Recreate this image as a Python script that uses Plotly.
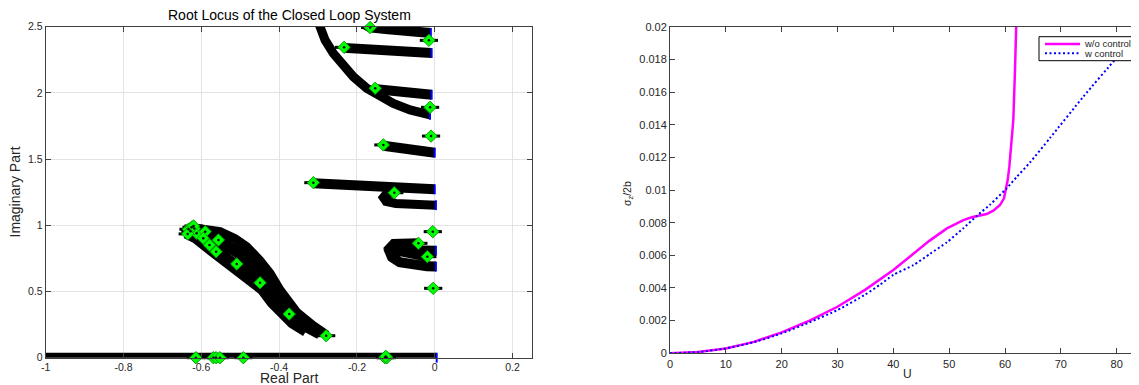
import plotly.graph_objects as go

# page body has an 8px margin: figure is sized/positioned so the chart lands where the reference has it
OFF = 8
W, H = 1139 - OFF, 385 - OFF

# ---------------- Root locus data ----------------
b1_x = [-0.178, -0.166, -0.12, -0.08, -0.04, -0.01]
b1_y = [2.515, 2.494, 2.481, 2.470, 2.460, 2.452]
b3_x = [-0.233, -0.18, -0.12, -0.06, -0.008]
b3_y = [2.340, 2.328, 2.317, 2.308, 2.301]
b4_x = [-0.30, -0.2949, -0.2820, -0.2607, -0.2350, -0.2092, -0.1748, -0.1406, -0.1064, -0.0635, -0.0121]
b4_y = [2.54, 2.500, 2.400, 2.299, 2.198, 2.122, 2.035, 1.971, 1.921, 1.871, 1.834]
b5_x = [-0.149, -0.10, -0.05, -0.008]
b5_y = [2.027, 2.012, 1.998, 1.986]
b7_x = [-0.132, -0.09, -0.04, 0.0]
b7_y = [1.601, 1.580, 1.561, 1.548]
b9_x = [-0.312, -0.25, -0.15, -0.05, 0.0]
b9_y = [1.317, 1.306, 1.293, 1.279, 1.272]
b10_x = [-0.104, -0.125, -0.132, -0.125, -0.10, -0.05, 0.003]
b10_y = [1.246, 1.235, 1.21, 1.18, 1.165, 1.155, 1.152]
hu_x = [-0.042, -0.08, -0.105, -0.112, -0.10, -0.06, -0.02, 0.003]
hu_y = [0.864, 0.872, 0.860, 0.838, 0.820, 0.812, 0.810, 0.808]
hl_x = [-0.019, -0.06, -0.10, -0.115, -0.11, -0.09, -0.06, -0.02, 0.003]
hl_y = [0.763, 0.790, 0.810, 0.795, 0.760, 0.722, 0.700, 0.690, 0.688]
# the long S-shaped bundle on the left: upper strand, and the two halves of the thick lower strand
sa_x = [-0.632, -0.6033, -0.552, -0.5134, -0.4833, -0.4491, -0.4234, -0.3977, -0.3805, -0.3548, -0.3121, -0.2776]
sa_y = [0.985, 0.977, 0.952, 0.899, 0.838, 0.733, 0.637, 0.511, 0.436, 0.343, 0.242, 0.171]
sb1_x = [-0.6033, -0.552, -0.5134, -0.4833, -0.4491, -0.4234, -0.3977, -0.3805, -0.3463, -0.2949]
sb1_y = [0.919, 0.876, 0.811, 0.748, 0.634, 0.534, 0.408, 0.332, 0.264, 0.184]
sb2_x = [-0.6375, -0.6118, -0.5691, -0.5262, -0.4833, -0.4406, -0.4149, -0.3892, -0.3635, -0.329]
sb2_y = [0.952, 0.914, 0.813, 0.725, 0.625, 0.524, 0.423, 0.335, 0.272, 0.209]
re_x = [-1.0, 0.005]
re_y = [0.0, 0.0]

branches = [(b1_x, b1_y, 10), (b3_x, b3_y, 10), (b4_x, b4_y, 9), (b5_x, b5_y, 10), (b7_x, b7_y, 10),
            (b9_x, b9_y, 10), (b10_x, b10_y, 9), (hu_x, hu_y, 10), (hl_x, hl_y, 10),
            (sa_x, sa_y, 9), (sb1_x, sb1_y, 12), (sb2_x, sb2_y, 14), (re_x, re_y, 10)]
end_branches = [(b1_x, b1_y), (b3_x, b3_y), (b4_x, b4_y), (b5_x, b5_y), (b7_x, b7_y),
                (b9_x, b9_y), (b10_x, b10_y), (hu_x, hu_y), (hl_x, hl_y), (re_x, re_y)]

dia_x = [-0.166, -0.015, -0.233, -0.153, -0.012, -0.0095, -0.132, -0.312, -0.104,
         -0.005, -0.042, -0.019, -0.004,
         -0.633, -0.612, -0.590, -0.595, -0.579, -0.562, -0.556, -0.509, -0.449, -0.374, -0.279,
         -0.625, -0.628, -0.618, -0.635, -0.620,
         -0.614, -0.569, -0.562, -0.552, -0.492, -0.128, -0.123, -0.126]
dia_y = [2.494, 2.397, 2.344, 2.035, 1.891, 1.674, 1.607, 1.322, 1.246,
         0.952, 0.864, 0.763, 0.524,
         0.970, 0.940, 0.952, 0.902, 0.851, 0.801, 0.889, 0.708, 0.566, 0.330, 0.166,
         0.985, 0.955, 0.975, 0.935, 0.995,
         0.0, 0.0, 0.0, 0.0, 0.0, 0.0, 0.0, 0.01]

x_ticks_l = [-1, -0.8, -0.6, -0.4, -0.2, 0, 0.2]
x_text_l = ["-1", "-0.8", "-0.6", "-0.4", "-0.2", "0", "0.2"]
y_ticks_l = [0, 0.5, 1, 1.5, 2, 2.5]
y_text_l = ["0", "0.5", "1", "1.5", "2", "2.5"]

# ---------------- sigma_z / 2b vs U data ----------------
U_wo = [0, 5, 10, 15, 20, 25, 30, 35, 40, 43.6, 46.5, 49.6, 52.55, 54.04, 55.53, 56.72,
        57.91, 59.1, 59.82, 60.18, 60.48, 60.78, 61.08, 61.49, 61.79, 62.05]
S_wo = [0, 0.00008, 0.0003, 0.0007, 0.00128, 0.002, 0.00285, 0.0039, 0.0051, 0.0061, 0.0069,
        0.00765, 0.00816, 0.00833, 0.00845, 0.00853, 0.00873, 0.00908, 0.00949, 0.0100,
        0.01061, 0.01143, 0.01245, 0.01429, 0.01735, 0.0205]
U_w = [0, 5, 10, 15, 20, 25, 30, 35, 37.6, 40, 43.6, 46.6, 49.6, 52.5, 54.9, 57.3, 60.3,
       62.1, 64.5, 68.1, 74, 80, 84.5]
S_w = [0, 0.00008, 0.0003, 0.00068, 0.00122, 0.0019, 0.00265, 0.0036, 0.0042, 0.0048, 0.0054,
       0.0061, 0.0068, 0.00765, 0.0084, 0.0091, 0.0101, 0.0108, 0.0117, 0.0132, 0.0157,
       0.0181, 0.0198]

x_ticks_r = [0, 10, 20, 30, 40, 50, 60, 70, 80]
y_ticks_r = [0, 0.002, 0.004, 0.006, 0.008, 0.01, 0.012, 0.014, 0.016, 0.018, 0.02]
y_text_r = ["0", "0.002", "0.004", "0.006", "0.008", "0.01", "0.012", "0.014", "0.016", "0.018", "0.02"]

series_names = ["w/o control", "w control"]
series_colors = ["#ff00ff", "#0000ff"]

# ---------------- figure ----------------
FONT = "Liberation Sans, Arial, Helvetica, sans-serif"
TXT = "#262626"
fig = go.Figure()

for bx, by, bw in branches:
    fig.add_trace(go.Scatter(x=bx, y=by, mode="lines", xaxis="x", yaxis="y",
                             line=dict(color="black", width=bw), showlegend=False,
                             hoverinfo="skip"))

fig.add_trace(go.Scatter(x=[b[0][-1] for b in end_branches], y=[b[1][-1] for b in end_branches],
                         mode="markers", xaxis="x", yaxis="y", cliponaxis=False,
                         marker=dict(symbol="line-ns", size=7, line=dict(color="blue", width=2)),
                         showlegend=False, hoverinfo="skip"))
fig.add_trace(go.Scatter(x=dia_x, y=dia_y, mode="markers", xaxis="x", yaxis="y", cliponaxis=False,
                         marker=dict(symbol="line-ew", size=13, line=dict(color="black", width=3)),
                         showlegend=False, hoverinfo="skip"))
fig.add_trace(go.Scatter(x=dia_x, y=dia_y, mode="markers", xaxis="x", yaxis="y", cliponaxis=False,
                         marker=dict(symbol="diamond", size=9.5, color="#00ff00",
                                     line=dict(color="#00a000", width=1)),
                         showlegend=False, hoverinfo="skip"))
fig.add_trace(go.Scatter(x=dia_x, y=dia_y, mode="markers", xaxis="x", yaxis="y", cliponaxis=False,
                         marker=dict(symbol="circle", size=2.5, color="black"),
                         showlegend=False, hoverinfo="skip"))

fig.add_trace(go.Scatter(x=U_wo, y=S_wo, mode="lines", name=series_names[0], xaxis="x2", yaxis="y2",
                         line=dict(color=series_colors[0], width=2.5), showlegend=False))
fig.add_trace(go.Scatter(x=U_w, y=S_w, mode="lines", name=series_names[1], xaxis="x2", yaxis="y2",
                         line=dict(color=series_colors[1], width=2, dash="2px,2.5px",
                                   shape="spline", smoothing=0.6), showlegend=False))

axcommon = dict(showline=True, linecolor="#404040", linewidth=1, ticks="inside", ticklen=5,
                tickcolor="#404040", zeroline=False, fixedrange=True, automargin=False)


def px(xp):
    return (xp - OFF) / W


def py(yp):
    return 1 - (yp - OFF) / H


# compact legend (box, key lines, labels) placed like the reference
shapes = [
    dict(type="rect", xref="paper", yref="paper", x0=px(1039), x1=px(1135), y0=py(60.7), y1=py(36.7),
         line=dict(color="black", width=1), fillcolor="white", layer="above"),
    dict(type="line", xref="paper", yref="paper", x0=px(1045), x1=px(1080), y0=py(44), y1=py(44),
         line=dict(color=series_colors[0], width=2.5), layer="above"),
    dict(type="line", xref="paper", yref="paper", x0=px(1045), x1=px(1080), y0=py(53.3), y1=py(53.3),
         line=dict(color=series_colors[1], width=2, dash="2px,2.5px"), layer="above"),
]

annotations = [
    dict(text="Root Locus of the Closed Loop System", x=px(289), y=py(14.7),
         xref="paper", yref="paper", showarrow=False, xanchor="center", yanchor="middle",
         font=dict(size=14, color="black")),
    dict(text="Real Part", x=px(289), y=py(378), xref="paper", yref="paper",
         showarrow=False, xanchor="center", yanchor="middle", font=dict(size=14, color=TXT)),
    dict(text="Imaginary Part", x=px(14.5), y=py(192), xref="paper", yref="paper",
         showarrow=False, xanchor="center", yanchor="middle", textangle=-90,
         font=dict(size=14, color=TXT)),
    dict(text="U", x=px(907), y=py(374), xref="paper", yref="paper",
         showarrow=False, xanchor="center", yanchor="middle", font=dict(size=12, color=TXT)),
    dict(text="σ<sub>z</sub>/2b", x=px(628), y=py(194), xref="paper", yref="paper",
         showarrow=False, xanchor="center", yanchor="middle", textangle=-90,
         font=dict(size=10.5, color=TXT)),
]
for i, nm in enumerate(series_names):
    annotations.append(dict(text=nm, x=px(1082), y=py([44, 53.3][i]), xref="paper", yref="paper",
                            showarrow=False, xanchor="left", yanchor="middle",
                            font=dict(size=9.5, color=TXT)))

fig.update_layout(
    width=W, height=H,
    margin=dict(l=0, r=0, t=0, b=0),
    paper_bgcolor="white", plot_bgcolor="white",
    font=dict(family=FONT, color=TXT),
    showlegend=False,
    xaxis=dict(domain=[px(45.7), px(532)], range=[-1, 0.25], tickvals=x_ticks_l, ticktext=x_text_l,
               showgrid=True, gridcolor="#e3e3e3", mirror="ticks", anchor="y",
               tickfont=dict(size=10.5, color=TXT), **axcommon),
    yaxis=dict(domain=[py(357.7), py(26.7)], range=[0, 2.5], tickvals=y_ticks_l, ticktext=y_text_l,
               showgrid=True, gridcolor="#e3e3e3", mirror="ticks", anchor="x",
               tickfont=dict(size=10.5, color=TXT), **axcommon),
    xaxis2=dict(domain=[px(670), 1.0], range=[0, 84.0], tickvals=x_ticks_r,
                showgrid=False, mirror="ticks", anchor="y2",
                tickfont=dict(size=11, color=TXT), **axcommon),
    yaxis2=dict(domain=[py(353.3), py(26.7)], range=[0, 0.02], tickvals=y_ticks_r, ticktext=y_text_r,
                showgrid=False, mirror=False, anchor="x2",
                tickfont=dict(size=11, color=TXT), **axcommon),
    shapes=shapes,
    annotations=annotations,
)

fig.write_html("out.html")
